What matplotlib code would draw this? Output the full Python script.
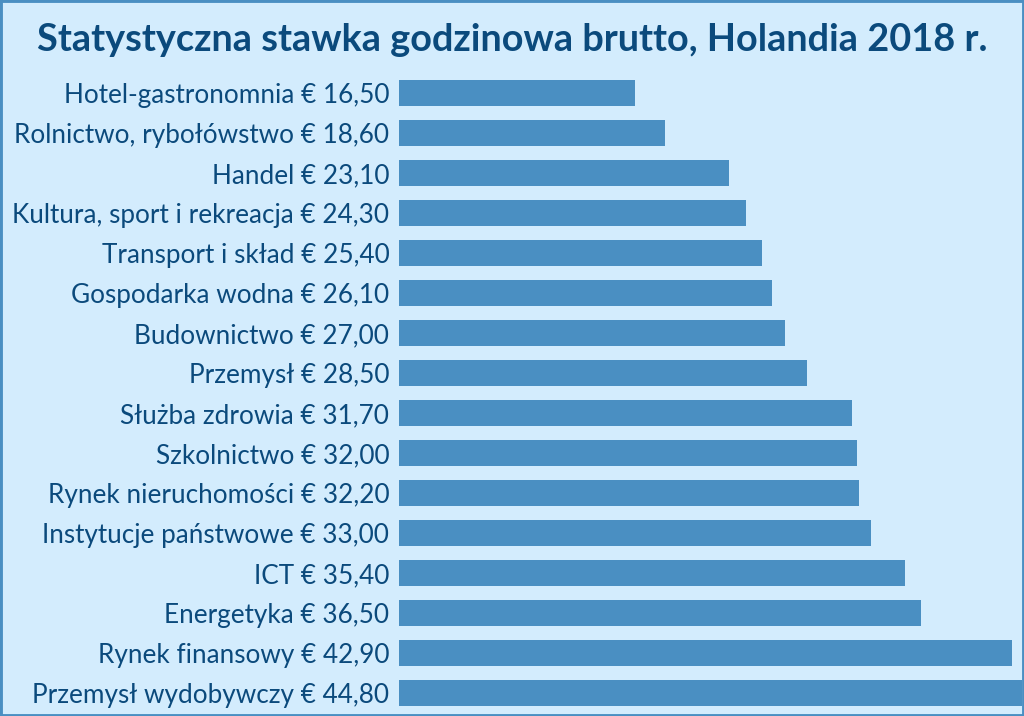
import matplotlib
matplotlib.use("Agg")
import matplotlib.pyplot as plt
from matplotlib.patches import Rectangle

categories = [
    "Hotel-gastronomnia", "Rolnictwo, rybołówstwo", "Handel",
    "Kultura, sport i rekreacja", "Transport i skład", "Gospodarka wodna",
    "Budownictwo", "Przemysł", "Służba zdrowia", "Szkolnictwo",
    "Rynek nieruchomości", "Instytucje państwowe", "ICT", "Energetyka",
    "Rynek finansowy", "Przemysł wydobywczy",
]
values = [16.50, 18.60, 23.10, 24.30, 25.40, 26.10, 27.00, 28.50,
          31.70, 32.00, 32.20, 33.00, 35.40, 36.50, 42.90, 44.80]
title = "Statystyczna stawka godzinowa brutto, Holandia 2018 r."

BG = "#d3ecfd"
BAR = "#4a8fc2"
TXT = "#0b4a7c"
plt.rcParams['font.family'] = ['Lato', 'DejaVu Sans']

fig = plt.figure(figsize=(10.24, 7.16), dpi=100)
fig.patch.set_facecolor(BG)

ax = fig.add_axes([399/1024, 1-713/716, (1022-399)/1024, 640/716])
ax.set_facecolor(BG)
ypos = list(range(len(values)))
ax.barh(ypos, values, height=0.65, color=BAR)
ax.set_ylim(len(values)-0.5, -0.5)
ax.set_xlim(0, (1022-399)/14.3)
labels = [f"{c} € {v:.2f}".replace(".", ",") for c, v in zip(categories, values)]
ax.set_yticks(ypos)
ax.set_yticklabels(labels, fontsize=18.8, color=TXT)
ax.tick_params(axis='y', length=0, pad=7)
ax.set_xticks([])
for s in ax.spines.values():
    s.set_visible(False)

fig.text(0.5, 1-40/716, title, ha='center', va='center', fontsize=27.3,
         fontweight='bold', color=TXT)

fig.add_artist(Rectangle((0, 0), 1, 1, transform=fig.transFigure, fill=False,
                         edgecolor=BAR, linewidth=3.5, zorder=10))

fig.savefig("out.png", dpi=100, facecolor=BG)
